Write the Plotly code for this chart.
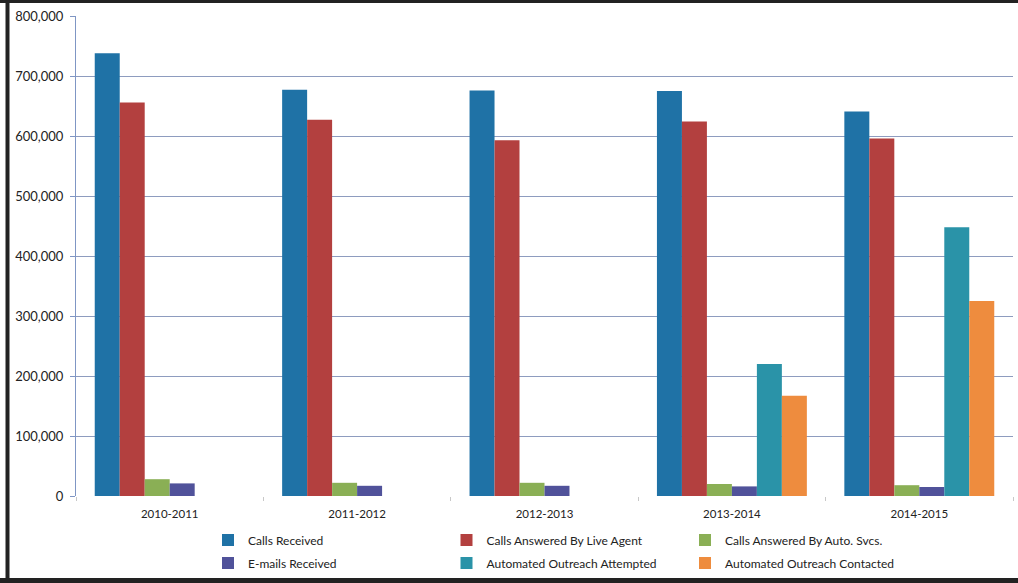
import plotly.graph_objects as go

years = ["2010-2011", "2011-2012", "2012-2013", "2013-2014", "2014-2015"]
calls_received = [738000, 677000, 676000, 675000, 641000]
calls_live_agent = [656000, 627000, 593000, 624000, 596000]
calls_auto_svcs = [28000, 22000, 22000, 20000, 18000]
emails_received = [21000, 17000, 17000, 16000, 15000]
outreach_attempted = [None, None, None, 220000, 448000]
outreach_contacted = [None, None, None, 167000, 325000]

series = [
    ("Calls Received", calls_received, "#1f72a6", "legend"),
    ("Calls Answered By Live Agent", calls_live_agent, "#b3403f", "legend"),
    ("Calls Answered By Auto. Svcs.", calls_auto_svcs, "#8aaf55", "legend"),
    ("E-mails Received", emails_received, "#50529a", "legend2"),
    ("Automated Outreach Attempted", outreach_attempted, "#2a93a8", "legend2"),
    ("Automated Outreach Contacted", outreach_contacted, "#ee8c3e", "legend2"),
]

W, H = 1018, 583
L, R, T, B = 76, 5, 16, 87
pw, ph = W - L - R, H - T - B

fig = go.Figure()
for name, vals, col, lg in series:
    fig.add_trace(go.Bar(x=years, y=vals, name=name, legend=lg,
                         marker=dict(color=col, line=dict(width=0))))

def cx(p):
    return p / W

def cy(p):
    return 1 - p / H

legend_common = dict(
    orientation="h", xref="container", yref="container", xanchor="left", yanchor="middle",
    entrywidth=193.5, entrywidthmode="pixels",
    font=dict(size=12, color="#222"), bgcolor="rgba(0,0,0,0)", traceorder="normal",
)

fig.update_layout(
    width=W, height=H,
    margin=dict(l=L, r=R, t=T, b=B, autoexpand=False),
    paper_bgcolor="white", plot_bgcolor="white",
    barmode="group", bargap=0.2, bargroupgap=0,
    font=dict(family="Lato, 'Open Sans', sans-serif", size=12, color="#222"),
    xaxis=dict(
        showgrid=False, showline=False, ticks="outside", tickson="boundaries",
        ticklen=4, tickcolor="#c8c8c8", tickfont=dict(size=11.5, color="#222"),
        ticklabelstandoff=9,
        zeroline=False, automargin=False,
    ),
    yaxis=dict(
        range=[0, 800000], dtick=100000, tickformat=",",
        showgrid=True, gridcolor="#8e9cbf", gridwidth=1,
        showline=True, linecolor="#7f96c4", linewidth=1,
        ticks="outside", ticklen=5, tickcolor="#7f96c4",
        ticklabelstandoff=4,
        tickfont=dict(size=13, color="#222"), zeroline=False, automargin=False,
    ),
    legend=dict(x=cx(208), y=cy(540), **legend_common),
    legend2=dict(x=cx(208), y=cy(563), **legend_common),
    shapes=[
        dict(type="line", xref="paper", yref="paper",
             x0=(7.5 - L) / pw, x1=(7.5 - L) / pw, y0=(H - B) / ph, y1=(H - B - 583) / ph,
             line=dict(color="#222", width=4)),
        dict(type="line", xref="paper", yref="paper",
             x0=-L / pw, x1=(W - L) / pw, y0=(H - B - 1.5) / ph, y1=(H - B - 1.5) / ph,
             line=dict(color="#222", width=3)),
        dict(type="line", xref="paper", yref="paper",
             x0=-L / pw, x1=(W - L) / pw, y0=(H - B - 580.5) / ph, y1=(H - B - 580.5) / ph,
             line=dict(color="#222", width=5)),
    ],
)

fig.write_html("out.html", config={"displayModeBar": False},
               post_script="document.body.style.margin='0';")
